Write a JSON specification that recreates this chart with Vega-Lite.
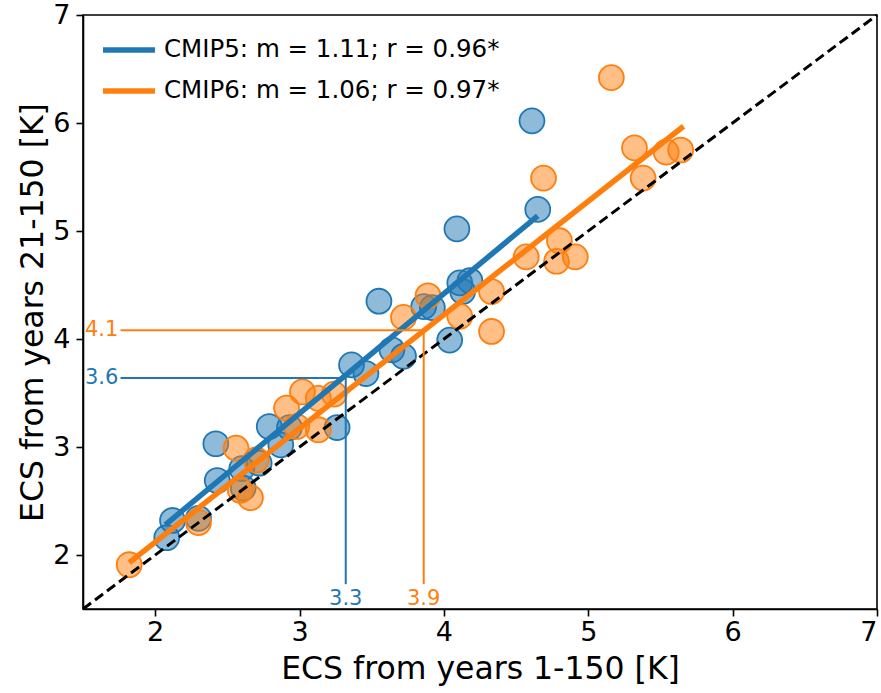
{
  "$schema": "https://vega.github.io/schema/vega-lite/v6.json",
  "autosize": "none",
  "width": 794,
  "height": 594,
  "padding": {"left": 83, "top": 15, "right": 4, "bottom": 84},
  "background": "white",
  "config": {
    "font": "DejaVu Sans",
    "view": {"stroke": "black", "strokeWidth": 1.6},
    "axis": {"grid": false, "domainColor": "black", "domainWidth": 1.6, "tickColor": "black", "tickWidth": 1.6, "tickSize": 7, "labelFontSize": 27, "labelColor": "black", "titleFontSize": 31.5, "titleFontWeight": "normal", "titleColor": "black", "labelFont": "DejaVu Sans", "titleFont": "DejaVu Sans"}
  },
  "datasets": {
    "pts": [
      {"series": "CMIP5", "x": 4.61, "y": 6.02},
      {"series": "CMIP5", "x": 4.65, "y": 5.20},
      {"series": "CMIP5", "x": 4.09, "y": 5.02},
      {"series": "CMIP5", "x": 3.55, "y": 4.35},
      {"series": "CMIP5", "x": 4.11, "y": 4.52},
      {"series": "CMIP5", "x": 4.18, "y": 4.54},
      {"series": "CMIP5", "x": 4.13, "y": 4.44},
      {"series": "CMIP5", "x": 3.86, "y": 4.30},
      {"series": "CMIP5", "x": 3.92, "y": 4.29},
      {"series": "CMIP5", "x": 4.04, "y": 3.99},
      {"series": "CMIP5", "x": 3.64, "y": 3.90},
      {"series": "CMIP5", "x": 3.72, "y": 3.84},
      {"series": "CMIP5", "x": 3.36, "y": 3.76},
      {"series": "CMIP5", "x": 3.46, "y": 3.68},
      {"series": "CMIP5", "x": 3.26, "y": 3.18},
      {"series": "CMIP5", "x": 2.79, "y": 3.19},
      {"series": "CMIP5", "x": 2.93, "y": 3.18},
      {"series": "CMIP5", "x": 2.87, "y": 3.02},
      {"series": "CMIP5", "x": 2.42, "y": 3.03},
      {"series": "CMIP5", "x": 2.72, "y": 2.85},
      {"series": "CMIP5", "x": 2.43, "y": 2.69},
      {"series": "CMIP5", "x": 2.60, "y": 2.80},
      {"series": "CMIP5", "x": 2.61, "y": 2.62},
      {"series": "CMIP5", "x": 2.12, "y": 2.32},
      {"series": "CMIP5", "x": 2.30, "y": 2.34},
      {"series": "CMIP5", "x": 2.08, "y": 2.16},
      {"series": "CMIP6", "x": 5.16, "y": 6.42},
      {"series": "CMIP6", "x": 5.32, "y": 5.77},
      {"series": "CMIP6", "x": 5.54, "y": 5.73},
      {"series": "CMIP6", "x": 5.64, "y": 5.75},
      {"series": "CMIP6", "x": 5.38, "y": 5.49},
      {"series": "CMIP6", "x": 4.69, "y": 5.49},
      {"series": "CMIP6", "x": 4.80, "y": 4.91},
      {"series": "CMIP6", "x": 4.57, "y": 4.76},
      {"series": "CMIP6", "x": 4.78, "y": 4.72},
      {"series": "CMIP6", "x": 4.91, "y": 4.76},
      {"series": "CMIP6", "x": 4.33, "y": 4.44},
      {"series": "CMIP6", "x": 4.33, "y": 4.07},
      {"series": "CMIP6", "x": 4.11, "y": 4.21},
      {"series": "CMIP6", "x": 3.89, "y": 4.40},
      {"series": "CMIP6", "x": 3.72, "y": 4.20},
      {"series": "CMIP6", "x": 3.02, "y": 3.51},
      {"series": "CMIP6", "x": 3.24, "y": 3.49},
      {"series": "CMIP6", "x": 3.13, "y": 3.45},
      {"series": "CMIP6", "x": 2.91, "y": 3.36},
      {"series": "CMIP6", "x": 2.98, "y": 3.19},
      {"series": "CMIP6", "x": 3.13, "y": 3.16},
      {"series": "CMIP6", "x": 2.56, "y": 2.99},
      {"series": "CMIP6", "x": 2.70, "y": 2.88},
      {"series": "CMIP6", "x": 2.59, "y": 2.60},
      {"series": "CMIP6", "x": 2.66, "y": 2.53},
      {"series": "CMIP6", "x": 2.30, "y": 2.30},
      {"series": "CMIP6", "x": 1.82, "y": 1.91}
    ],
    "fit": [
      {"model": "CMIP5: m = 1.11; r = 0.96*", "x": 2.07, "y": 2.28},
      {"model": "CMIP5: m = 1.11; r = 0.96*", "x": 4.65, "y": 5.14},
      {"model": "CMIP6: m = 1.06; r = 0.97*", "x": 1.82, "y": 1.93},
      {"model": "CMIP6: m = 1.06; r = 0.97*", "x": 5.66, "y": 5.97}
    ],
    "diag": [{"x": 1.5, "y": 1.5}, {"x": 7, "y": 7}],
    "guides": [
      {"series": "CMIP5", "x": 1.76, "x2": 3.32, "y": 3.64, "y2": 3.64},
      {"series": "CMIP5", "x": 3.32, "x2": 3.32, "y": 1.73, "y2": 3.64},
      {"series": "CMIP6", "x": 1.76, "x2": 3.86, "y": 4.08, "y2": 4.08},
      {"series": "CMIP6", "x": 3.86, "x2": 3.86, "y": 1.73, "y2": 4.08}
    ],
    "leftLabels": [
      {"series": "CMIP5", "x": 1.745, "y": 3.64, "t": "3.6"},
      {"series": "CMIP6", "x": 1.745, "y": 4.08, "t": "4.1"}
    ],
    "bottomLabels": [
      {"series": "CMIP5", "x": 3.32, "y": 1.54, "t": "3.3"},
      {"series": "CMIP6", "x": 3.86, "y": 1.54, "t": "3.9"}
    ]
  },
  "encoding": {
    "x": {"field": "x", "type": "quantitative", "scale": {"domain": [1.5, 7], "nice": false, "zero": false}, "axis": {"values": [2, 3, 4, 5, 6, 7], "title": "ECS from years 1-150 [K]", "labelPadding": 3, "titlePadding": 8}},
    "y": {"field": "y", "type": "quantitative", "scale": {"domain": [1.5, 7], "nice": false, "zero": false}, "axis": {"values": [2, 3, 4, 5, 6, 7], "title": "ECS from years 21-150 [K]", "labelPadding": 6, "titlePadding": 3}}
  },
  "layer": [
    {
      "data": {"name": "pts"},
      "mark": {"type": "point", "filled": true, "shape": "circle", "size": 620, "fillOpacity": 0.5, "strokeOpacity": 1, "strokeWidth": 1.8},
      "encoding": {
        "fill": {"field": "series", "type": "nominal", "scale": {"domain": ["CMIP5", "CMIP6"], "range": ["#1f77b4", "#ff7f0e"]}, "legend": null},
        "stroke": {"field": "series", "type": "nominal", "scale": {"domain": ["CMIP5", "CMIP6"], "range": ["#1f77b4", "#ff7f0e"]}, "legend": null}
      }
    },
    {
      "data": {"name": "diag"},
      "mark": {"type": "line", "color": "black", "strokeWidth": 3, "strokeDash": [10, 5]},
      "encoding": {}
    },
    {
      "data": {"name": "fit"},
      "mark": {"type": "line", "strokeWidth": 5.5},
      "encoding": {
        "detail": {"field": "model"},
        "color": {"field": "model", "type": "nominal", "scale": {"domain": ["CMIP5: m = 1.11; r = 0.96*", "CMIP6: m = 1.06; r = 0.97*"], "range": ["#1f77b4", "#ff7f0e"]},
          "legend": {"title": null, "orient": "none", "legendX": 17, "legendY": 6, "padding": 0, "symbolType": "stroke", "symbolSize": 2700, "symbolStrokeWidth": 5.5, "labelFontSize": 24.5, "labelColor": "black", "labelFont": "DejaVu Sans", "labelOffset": 6, "rowPadding": 0, "labelLimit": 600}}
      }
    },
    {
      "data": {"name": "guides"},
      "mark": {"type": "rule", "strokeWidth": 2},
      "encoding": {
        "x2": {"field": "x2"},
        "y2": {"field": "y2"},
        "stroke": {"field": "series", "type": "nominal", "legend": null}
      }
    },
    {
      "data": {"name": "leftLabels"},
      "mark": {"type": "text", "align": "right", "baseline": "middle", "fontSize": 21},
      "encoding": {
        "text": {"field": "t"},
        "fill": {"field": "series", "type": "nominal", "legend": null}
      }
    },
    {
      "data": {"name": "bottomLabels"},
      "mark": {"type": "text", "align": "center", "baseline": "alphabetic", "fontSize": 21},
      "encoding": {
        "text": {"field": "t"},
        "fill": {"field": "series", "type": "nominal", "legend": null}
      }
    }
  ]
}
